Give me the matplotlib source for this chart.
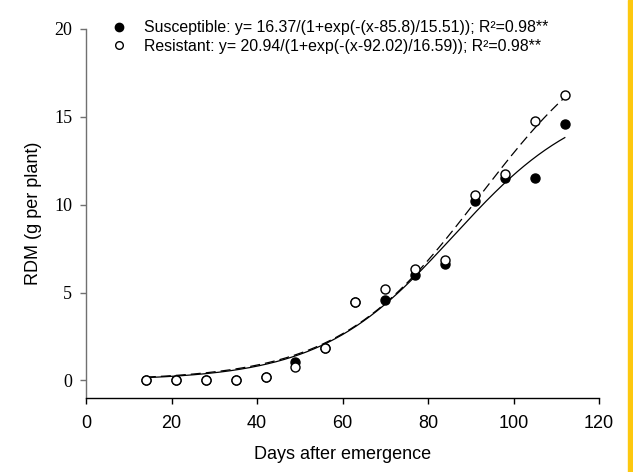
import numpy as np
import matplotlib
matplotlib.use("Agg")
import matplotlib.pyplot as plt
from matplotlib.lines import Line2D
from matplotlib.patches import Rectangle

# Days after emergence at each sampling
days = [14, 21, 28, 35, 42, 49, 56, 63, 70, 77, 84, 91, 98, 105, 112]

# Root dry matter (g per plant)
susceptible = [0.0, 0.0, 0.02, 0.05, 0.2, 1.04, 1.85, 4.46, 4.6, 6.02, 6.6, 10.2, 11.5, 11.53, 14.6]
resistant = [0.0, 0.0, 0.02, 0.05, 0.2, 0.76, 1.86, 4.46, 5.18, 6.36, 6.84, 10.54, 11.74, 14.77, 16.22]

# Logistic fit parameters: a / (1 + exp(-(x - x0) / b))
sus_fit = (16.37, 85.8, 15.51)
res_fit = (20.94, 92.02, 16.59)

sus_label = "Susceptible: y= 16.37/(1+exp(-(x-85.8)/15.51)); R\u00b2=0.98**"
res_label = "Resistant: y= 20.94/(1+exp(-(x-92.02)/16.59)); R\u00b2=0.98**"

x_ticks = [0, 20, 40, 60, 80, 100, 120]
y_ticks = [0, 5, 10, 15, 20]


def logistic(x, a, x0, b):
    return a / (1.0 + np.exp(-(x - x0) / b))


sans = "Liberation Sans"
serif = "Liberation Serif"

fig = plt.figure(figsize=(6.33, 4.72), dpi=100)
ax = fig.add_axes([0.1359, 0.1568, 0.8104, 0.7818])

xs = np.linspace(min(days), max(days), 300)
ax.plot(xs, logistic(xs, *sus_fit), color="black", lw=0.9, zorder=2)
ax.plot(xs, logistic(xs, *res_fit), color="black", lw=0.9,
        dashes=(8, 4), zorder=2)

ax.plot(days, susceptible, "o", ms=6.5, mfc="black", mec="black",
        mew=1.0, zorder=3)
ax.plot(days, resistant, "o", ms=6.5, mfc="white", mec="black",
        mew=1.0, zorder=4)

ax.set_xlim(0, 120)
ax.set_ylim(-1, 20)
ax.set_xticks(x_ticks)
ax.set_yticks(y_ticks)
ax.set_xticklabels([str(t) for t in x_ticks], fontfamily=sans, fontsize=13)
ax.set_yticklabels([str(t) for t in y_ticks], fontfamily=serif, fontsize=13)

for side in ("top", "right"):
    ax.spines[side].set_visible(False)
ax.spines["left"].set_color("#707070")
ax.spines["left"].set_linewidth(1.0)
ax.spines["bottom"].set_linewidth(1.0)
ax.spines["left"].set_bounds(-1, 20)

ax.tick_params(axis="y", direction="out", length=4, width=1.0,
               color="#707070", pad=6)
ax.tick_params(axis="x", direction="out", length=4, width=1.0, pad=8)

ax.set_xlabel("Days after emergence", fontfamily=sans, fontsize=13,
              labelpad=10)
ax.set_ylabel("RDM (g per plant)", fontfamily=sans, fontsize=13,
              labelpad=9)

handles = [
    Line2D([], [], ls="none", marker="o", ms=6.0, mfc="black", mec="black"),
    Line2D([], [], ls="none", marker="o", ms=5.5, mfc="white", mec="black"),
]
leg = fig.legend(handles, [sus_label, res_label], loc="upper left",
                 bbox_to_anchor=(0.158, 0.981), frameon=False,
                 prop={"family": sans, "size": 11.4}, handlelength=1.0,
                 handletextpad=1.1, labelspacing=0.25, borderpad=0.2)

# Yellow strip along the right edge
fig.patches.append(Rectangle((628 / 633, 0), 5 / 633, 1,
                             transform=fig.transFigure,
                             color="#FDC80F", zorder=0))

fig.savefig("out.png", dpi=100)
